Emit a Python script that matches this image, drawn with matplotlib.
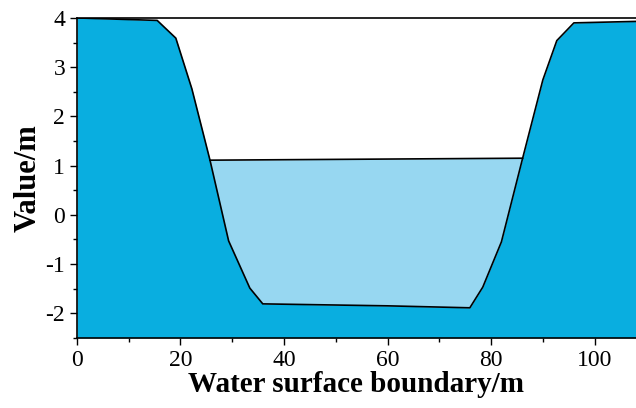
import matplotlib
matplotlib.use("Agg")
import matplotlib.pyplot as plt
from matplotlib.ticker import MultipleLocator
import numpy as np

# Ground (river bed) profile
ground_x = [0, 15.5, 19.1, 22.2, 25.7, 29.3, 33.4, 35.9, 60.0, 75.9, 78.4, 82.0, 86.1, 90.0, 92.7, 96.0, 108.0]
ground_y = [4.0, 3.95, 3.59, 2.56, 1.11, -0.53, -1.49, -1.81, -1.85, -1.89, -1.47, -0.55, 1.15, 2.74, 3.54, 3.90, 3.93]
# Water surface line
water_x = [25.7, 86.1]
water_y = [1.11, 1.15]

xlim = (0, 108)
ylim = (-2.5, 4)

plt.rcParams['font.family'] = ['Liberation Serif', 'DejaVu Serif']
plt.rcParams['axes.unicode_minus'] = False

fig = plt.figure(figsize=(6.36, 4.08), dpi=100)
ax = fig.add_axes([0.121, 0.172, 0.879, 0.784])

gx = np.array(ground_x)
gy = np.array(ground_y)

# water fill: between water line and ground, within water extent
mask = (gx >= water_x[0]) & (gx <= water_x[1])
wx = gx[mask]
wy_ground = gy[mask]
wy_surface = np.interp(wx, water_x, water_y)
ax.fill_between(wx, wy_ground, wy_surface, color='#97D7F1', lw=0, zorder=1)

# ground fill
ax.fill_between(gx, ylim[0], gy, color='#09AEE0', lw=0, zorder=2)
ax.plot(gx, gy, color='black', lw=1.2, zorder=3)
ax.plot(water_x, water_y, color='black', lw=1.2, zorder=3)

ax.set_xlim(*xlim)
ax.set_ylim(*ylim)
ax.xaxis.set_major_locator(MultipleLocator(20))
ax.xaxis.set_minor_locator(MultipleLocator(10))
ax.yaxis.set_major_locator(MultipleLocator(1))
ax.yaxis.set_minor_locator(MultipleLocator(0.5))
ax.tick_params(which='major', direction='out', length=5, width=1, labelsize=17)
ax.tick_params(which='minor', direction='out', length=3, width=1)
ax.spines['right'].set_visible(False)
for s in ['left', 'bottom', 'top']:
    ax.spines[s].set_linewidth(1.2)

ax.set_xlabel('Water surface boundary/m', fontsize=21, fontweight='bold', labelpad=0)
ax.set_ylabel('Value/m', fontsize=22, fontweight='bold', labelpad=2)

fig.savefig('out.png', dpi=100)
